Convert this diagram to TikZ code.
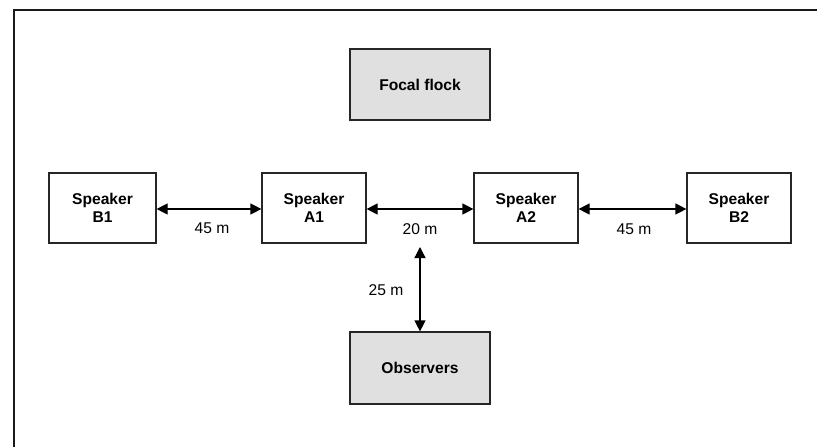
\documentclass[tikz,border=0pt]{standalone}
\usepackage{fontspec}
\setmainfont{Liberation Sans}
\usetikzlibrary{arrows.meta}
\definecolor{boxgray}{RGB}{224,224,224}
\tikzset{
  box/.style={draw=black!85, line width=1.2pt, rectangle, align=center, font=\fontsize{15.6}{18.5}\selectfont\bfseries, inner sep=0pt},
  gbox/.style={box, fill=boxgray},
  dist/.style={line width=1.2pt, {Triangle[length=11pt,width=11pt]}-{Triangle[length=11pt,width=11pt]}},
  lbl/.style={font=\fontsize{15.6}{18.5}\selectfont, inner sep=0pt}
}
\begin{document}
\begin{tikzpicture}[x=1pt,y=-1pt]
\useasboundingbox (0,0) rectangle (817,447);
\draw[line width=2pt, black!90] (14,460) -- (14,10) -- (830,10);
\node[gbox, minimum width=140pt, minimum height=71pt] (focal) at (420,84.5) {Focal flock};
\node[box, minimum width=107pt, minimum height=70pt] (b1) at (102.5,208) {Speaker\\B1};
\node[box, minimum width=104pt, minimum height=70pt] (a1) at (314,208) {Speaker\\A1};
\node[box, minimum width=104pt, minimum height=70pt] (a2) at (526,208) {Speaker\\A2};
\node[box, minimum width=104pt, minimum height=70pt] (b2) at (739,208) {Speaker\\B2};
\node[gbox, minimum width=140pt, minimum height=72pt] (obs) at (420,368) {Observers};
\draw[dist] (b1.east |- 0,209) -- (a1.west |- 0,209);
\draw[dist] (a1.east |- 0,209) -- (a2.west |- 0,209);
\draw[dist] (a2.east |- 0,209) -- (b2.west |- 0,209);
\coordinate (v) at (420,247);
\draw[dist] (v) -- (obs.north);
\node[lbl] (l1) at (212,228) {45 m};
\node[lbl] (l2) at (420,229) {20 m};
\node[lbl] (l3) at (634,229) {45 m};
\node[lbl] (l4) at (386,290) {25 m};
\end{tikzpicture}
\end{document}
